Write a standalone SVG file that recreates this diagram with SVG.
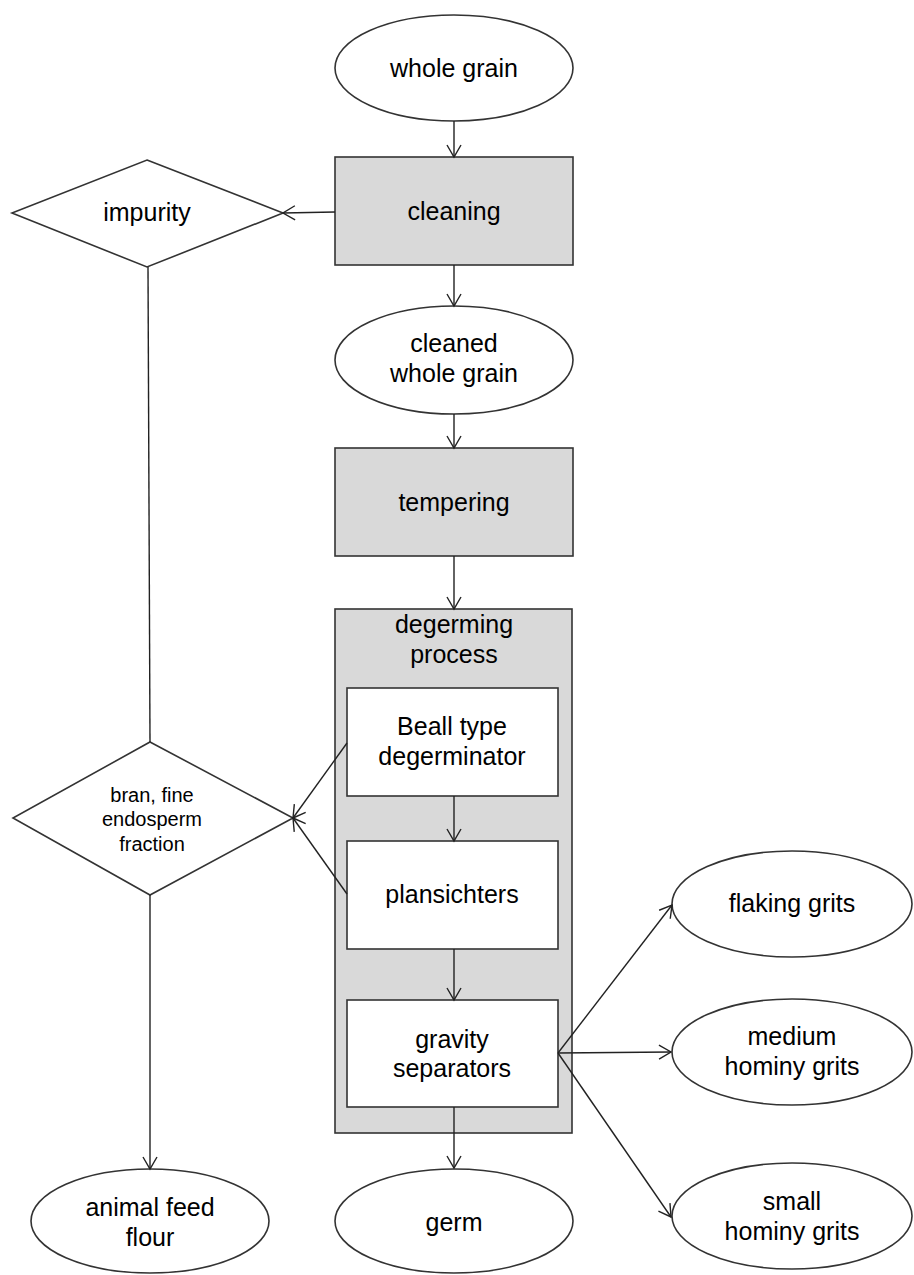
<svg xmlns="http://www.w3.org/2000/svg" width="914" height="1275" viewBox="0 0 914 1275">
<defs>
<marker id="arr" markerUnits="userSpaceOnUse" markerWidth="20" markerHeight="20" viewBox="-14 -10 16 20" refX="0" refY="0" orient="auto">
<path d="M-12,-7 L0,0 L-12,7" fill="none" stroke="#222" stroke-width="1.4"/>
</marker>
<style>
.sh{stroke:#333;stroke-width:1.6;fill:#fff}
.g{fill:#d9d9d9}
.t{font-family:"Liberation Sans",Arial,sans-serif;font-size:25px;fill:#000;text-anchor:middle}
.s{font-size:20px}
.c{stroke:#222;stroke-width:1.4;fill:none}
.a{marker-end:url(#arr)}
</style>
</defs>
<rect width="914" height="1275" fill="#fff"/>
<g id="whole-grain"><ellipse class="sh" cx="454" cy="68" rx="119" ry="53"/><text class="t" x="454" y="77">whole grain</text></g>
<g id="cleaning"><rect class="sh g" x="335" y="157" width="238" height="108"/><text class="t" x="454" y="220">cleaning</text></g>
<g id="impurity"><polygon class="sh" points="147,160 283,213 147,267 12,213"/><text class="t" x="147" y="221">impurity</text></g>
<g id="cleaned-whole-grain"><ellipse class="sh" cx="454" cy="360" rx="119" ry="54"/><text class="t" x="454" y="352">cleaned</text><text class="t" x="454" y="382">whole grain</text></g>
<g id="tempering"><rect class="sh g" x="335" y="448" width="238" height="108"/><text class="t" x="454" y="511">tempering</text></g>
<g id="degerming-process"><rect class="sh g" x="335" y="609" width="237" height="524"/><text class="t" x="454" y="633">degerming</text><text class="t" x="454" y="663">process</text></g>
<g id="beall"><rect class="sh" x="347" y="688" width="211" height="108"/><text class="t" x="452" y="735">Beall type</text><text class="t" x="452" y="765">degerminator</text></g>
<g id="plansichters"><rect class="sh" x="347" y="841" width="211" height="108"/><text class="t" x="452" y="903">plansichters</text></g>
<g id="gravity-separators"><rect class="sh" x="347" y="1000" width="211" height="107"/><text class="t" x="452" y="1048">gravity</text><text class="t" x="452" y="1077">separators</text></g>
<g id="bran"><polygon class="sh" points="150,742 293,818 150,895 13,818"/><text class="t s" x="152" y="802">bran, fine</text><text class="t s" x="152" y="826">endosperm</text><text class="t s" x="152" y="851">fraction</text></g>
<g id="animal-feed-flour"><ellipse class="sh" cx="150" cy="1221" rx="119" ry="52"/><text class="t" x="150" y="1216">animal feed</text><text class="t" x="150" y="1246">flour</text></g>
<g id="germ"><ellipse class="sh" cx="454" cy="1221" rx="119" ry="52"/><text class="t" x="454" y="1231">germ</text></g>
<g id="flaking-grits"><ellipse class="sh" cx="792" cy="904" rx="120" ry="53"/><text class="t" x="792" y="912">flaking grits</text></g>
<g id="medium-hominy-grits"><ellipse class="sh" cx="792" cy="1052" rx="120" ry="53"/><text class="t" x="792" y="1045">medium</text><text class="t" x="792" y="1075">hominy grits</text></g>
<g id="small-hominy-grits"><ellipse class="sh" cx="792" cy="1216" rx="120" ry="53"/><text class="t" x="792" y="1210">small</text><text class="t" x="792" y="1240">hominy grits</text></g>
<g id="connectors">
<line class="c a" x1="454" y1="121" x2="454" y2="157"/>
<line class="c a" x1="335" y1="212" x2="283" y2="213"/>
<line class="c a" x1="454" y1="265" x2="454" y2="306"/>
<line class="c a" x1="454" y1="414" x2="454" y2="448"/>
<line class="c a" x1="454" y1="556" x2="454" y2="609"/>
<line class="c a" x1="454" y1="796" x2="454" y2="841"/>
<line class="c a" x1="454" y1="949" x2="454" y2="1000"/>
<line class="c a" x1="454" y1="1107" x2="454" y2="1168"/>
<line class="c" x1="148" y1="267" x2="150" y2="742"/>
<line class="c a" x1="150" y1="895" x2="150" y2="1169"/>
<line class="c a" x1="347" y1="743" x2="293" y2="818"/>
<line class="c a" x1="347" y1="894" x2="293" y2="818"/>
<line class="c a" x1="558" y1="1053" x2="672" y2="905"/>
<line class="c a" x1="558" y1="1053" x2="671" y2="1052"/>
<line class="c a" x1="558" y1="1053" x2="671" y2="1217"/>
</g>
</svg>
